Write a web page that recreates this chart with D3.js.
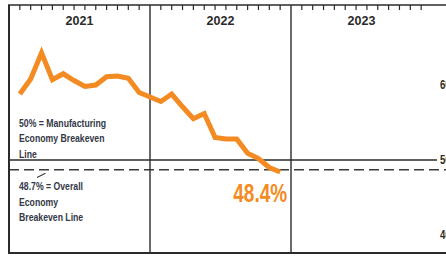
<!DOCTYPE html>
<html>
<head>
<meta charset="utf-8">
<script src="https://cdn.jsdelivr.net/npm/d3@7"></script>
<style>
  html, body { margin: 0; padding: 0; background: #fff; overflow: hidden; }
  svg { display: block; }
</style>
</head>
<body>
<svg id="chart" width="446" height="257"></svg>
<script>
// ---- data ----
const years = [2021, 2022, 2023];
const months = ["Jan", "Feb", "Mar", "Apr", "May", "Jun", "Jul", "Aug", "Sep", "Oct", "Nov", "Dec"];
const pmiYears  = [2021,2021,2021,2021,2021,2021,2021,2021,2021,2021,2021,2021,
                   2022,2022,2022,2022,2022,2022,2022,2022,2022,2022,2022,2022];
const pmiMonths = ["Jan","Feb","Mar","Apr","May","Jun","Jul","Aug","Sep","Oct","Nov","Dec",
                   "Jan","Feb","Mar","Apr","May","Jun","Jul","Aug","Sep","Oct","Nov","Dec"];
const pmiValues = [58.8, 60.8, 64.3, 60.7, 61.5, 60.6, 59.8, 60.0, 61.1, 61.2, 60.9, 59.0,
                   57.8, 58.8, 57.1, 55.5, 56.2, 53.0, 52.8, 52.8, 50.9, 50.2, 49.0, 48.4];
const yTicks = [60, 50, 40];
const mfgBreakeven = 50;
const overallBreakeven = 48.7;
const lastLabel = "48.4%";
const note1 = ["50% = Manufacturing", "Economy Breakeven", "Line"];
const note2 = ["48.7% = Overall", "Economy", "Breakeven Line"];

// ---- scales ----
const svg = d3.select("#chart");
const W = 446, H = 257;
const mLeft = 9, mRight = 432, mTop = 5, mBottom = 253;

const xYear = d3.scaleBand().domain(years).range([mLeft, mRight]).padding(0);
const xMonth = d3.scalePoint().domain(months).range([0, xYear.bandwidth()]).padding(1);
const y = d3.scaleLinear().domain([37.6, 70.67]).range([mBottom, mTop]);
const xPt = (yr, m) => xYear(yr) + xMonth(m);

const dark = "#2b2b2b";
const orange = "#f38b22";
const noteColor = "#343848";
const sans = "'Liberation Sans', Arial, sans-serif";

// ---- reference lines ----
svg.append("line")
  .attr("x1", mLeft).attr("x2", 437)
  .attr("y1", y(mfgBreakeven)).attr("y2", y(mfgBreakeven))
  .attr("stroke", dark).attr("stroke-width", 1.4);

svg.append("line")
  .attr("x1", mLeft).attr("x2", W + 5)
  .attr("y1", y(overallBreakeven)).attr("y2", y(overallBreakeven))
  .attr("stroke", "#3a3a3a").attr("stroke-width", 1.4)
  .attr("stroke-dasharray", "10,5");

// ---- year dividers ----
svg.selectAll("line.div").data(years.slice(1)).enter().append("line")
  .attr("class", "div")
  .attr("x1", d => xYear(d)).attr("x2", d => xYear(d))
  .attr("y1", mTop).attr("y2", mBottom)
  .attr("stroke", dark).attr("stroke-width", 1.4);

// ---- frame ----
svg.append("line").attr("x1", mLeft).attr("x2", mLeft).attr("y1", mTop).attr("y2", mBottom)
  .attr("stroke", dark).attr("stroke-width", 2);
svg.append("line").attr("x1", mLeft - 1).attr("x2", W + 5).attr("y1", mTop).attr("y2", mTop)
  .attr("stroke", dark).attr("stroke-width", 1.5);
svg.append("line").attr("x1", mLeft - 1).attr("x2", W + 5).attr("y1", mBottom).attr("y2", mBottom)
  .attr("stroke", dark).attr("stroke-width", 2);

// ---- month ticks on top ----
const tickData = [];
years.forEach(yr => months.forEach(m => tickData.push({yr, m})));
svg.selectAll("line.tick").data(tickData).enter().append("line")
  .attr("class", "tick")
  .attr("x1", d => xPt(d.yr, d.m)).attr("x2", d => xPt(d.yr, d.m))
  .attr("y1", mTop).attr("y2", mTop + 5)
  .attr("stroke", dark).attr("stroke-width", 1.2);

// ---- year labels ----
svg.selectAll("text.year").data(years).enter().append("text")
  .attr("class", "year")
  .attr("x", d => xYear(d) + xYear.bandwidth() / 2)
  .attr("y", 20)
  .attr("dy", "0.36em")
  .attr("text-anchor", "middle")
  .attr("font-family", sans)
  .attr("font-weight", "bold")
  .attr("font-size", 12.5)
  .attr("fill", dark)
  .text(d => d);

// ---- y labels at right (clipped by the window edge, as in the reference) ----
svg.selectAll("text.ylab").data(yTicks).enter().append("text")
  .attr("class", "ylab")
  .attr("transform", d => `translate(440,${y(d)}) scale(0.8,1)`)
  .attr("dy", "0.36em")
  .attr("font-family", sans)
  .attr("font-weight", "bold")
  .attr("font-size", 12)
  .attr("fill", dark)
  .text(d => d);

// ---- PMI line ----
const pts = pmiValues.map((v, i) => [xPt(pmiYears[i], pmiMonths[i]), y(v)]);
svg.append("path")
  .attr("d", d3.line()(pts))
  .attr("fill", "none")
  .attr("stroke", orange)
  .attr("stroke-width", 5);

// ---- last value label ----
svg.append("text")
  .attr("transform", `translate(${pts[pts.length - 1][0] + 7},202) scale(0.76,1)`)
  .attr("text-anchor", "end")
  .attr("font-family", sans)
  .attr("font-weight", "bold")
  .attr("font-size", 25)
  .attr("fill", orange)
  .text(lastLabel);

// ---- notes ----
const n1 = svg.append("text")
  .attr("transform", "translate(19,0) scale(0.79,1)")
  .attr("font-family", sans).attr("font-weight", "bold").attr("font-size", 11)
  .attr("fill", noteColor);
note1.forEach((t, i) => n1.append("tspan").attr("x", 0).attr("y", 127 + i * 15.5).text(t));

const n2 = svg.append("text")
  .attr("transform", "translate(19,0) scale(0.79,1)")
  .attr("font-family", sans).attr("font-weight", "bold").attr("font-size", 11)
  .attr("fill", noteColor);
note2.forEach((t, i) => n2.append("tspan").attr("x", 0).attr("y", 190.5 + i * 15.5).text(t));

// leader from note to dashed line
svg.append("line")
  .attr("x1", 37).attr("y1", 177.5)
  .attr("x2", 45.5).attr("y2", y(overallBreakeven) + 3.5)
  .attr("stroke", noteColor).attr("stroke-width", 1.2);
</script>
</body>
</html>
